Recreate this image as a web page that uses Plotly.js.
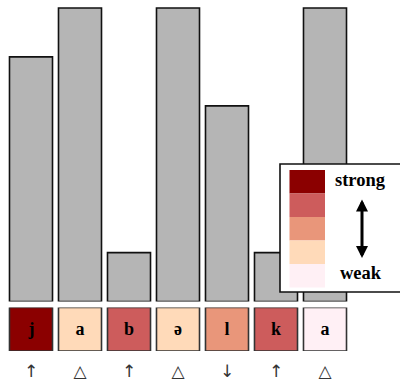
<!DOCTYPE html>
<html>
<head>
<meta charset="utf-8">
<script src="https://cdn.plot.ly/plotly-3.0.1.min.js"></script>
<style>html,body{margin:0;padding:0;background:#fff;}#chart{width:400px;height:383px;}</style>
</head>
<body>
<div id="chart"></div>
<script>
// ---- data ----
const phonemes = ['j', 'a', 'b', 'ə', 'l', 'k', 'a'];
const barValues = [5, 6, 1, 6, 4, 1, 6];
const strengthLevel = [5, 2, 4, 2, 3, 4, 1];   // 1 = weak ... 5 = strong
const boxHeights = [1, 1, 1, 1, 1, 1, 1];
const arrowLabels = ['↑', '△', '↑', '△', '↓', '↑', '△'];
const palette = ['#FFF0F5', '#FFDAB9', '#E9967A', '#CD5C5C', '#8B0000']; // weak -> strong
const legendWords = ['strong', 'weak'];

// ---- layout helpers ----
const W = 400, H = 383, MB = 32, PH = H - MB;
const px = x => x / W;
const py = y => (PH - y) / PH;
const positions = phonemes.map((_, i) => i);
const serif = '"Liberation Serif", "DejaVu Serif", serif';
const letterFont = {family: serif, size: 18, color: '#000', weight: 'bold'};

const traces = [
  {
    type: 'bar', x: positions, y: barValues, yaxis: 'y', xaxis: 'x',
    width: 0.878,
    marker: {color: '#b5b5b5', line: {color: '#111', width: 1.6}},
    hoverinfo: 'none', showlegend: false
  },
  {
    type: 'bar', x: positions, y: boxHeights, yaxis: 'y2', xaxis: 'x',
    width: 0.878,
    marker: {color: strengthLevel.map(s => palette[s - 1]), line: {color: '#333', width: 1.6}},
    text: phonemes.map(p => '<b>' + p + '</b>'), textposition: 'inside', insidetextanchor: 'middle',
    textangle: 0,
    textfont: letterFont, insidetextfont: letterFont,
    hoverinfo: 'none', showlegend: false
  }
];

const shapes = [];
// legend frame
shapes.push({type: 'rect', xref: 'paper', yref: 'paper',
  x0: px(280), x1: px(403), y0: py(292), y1: py(164),
  fillcolor: '#fff', line: {color: '#111', width: 1.6}, layer: 'above'});
// legend swatches (strong at top)
const swTop = 170, swH = 23.5;
for (let k = 0; k < palette.length; k++) {
  const c = palette[palette.length - 1 - k];
  shapes.push({type: 'rect', xref: 'paper', yref: 'paper',
    x0: px(289.5), x1: px(325), y0: py(swTop + (k + 1) * swH), y1: py(swTop + k * swH),
    fillcolor: c, line: {width: 0}, layer: 'above'});
}

const annotations = [
  {xref: 'paper', yref: 'paper', x: px(360), y: py(180), text: '<b>' + legendWords[0] + '</b>',
   showarrow: false, xanchor: 'center', yanchor: 'middle',
   font: {family: serif, size: 18.5, color: '#000'}},
  {xref: 'paper', yref: 'paper', x: px(360.5), y: py(273), text: '<b>' + legendWords[1] + '</b>',
   showarrow: false, xanchor: 'center', yanchor: 'middle',
   font: {family: serif, size: 18.5, color: '#000'}},
  {xref: 'paper', yref: 'paper', x: px(362), y: py(258), text: '',
   showarrow: true, arrowside: 'end+start', arrowhead: 2, arrowsize: 0.8, arrowwidth: 3,
   arrowcolor: '#000', ax: 0, ay: -60, standoff: 0, startstandoff: 0}
];

const layout = {
  width: W, height: H,
  margin: {l: 0, r: 0, t: 0, b: MB, pad: 0},
  paper_bgcolor: '#fff', plot_bgcolor: '#fff',
  bargap: 0.12,
  xaxis: {
    anchor: 'y2', range: [-31 / 49, (400 - 31) / 49],
    tickvals: positions, ticktext: arrowLabels,
    ticks: '', showline: false, showgrid: false, zeroline: false,
    ticklabelstandoff: 8,
    tickfont: {family: '"DejaVu Sans", sans-serif', size: 17, color: '#333'},
    fixedrange: true
  },
  yaxis: {
    domain: [py(301.5), 1], range: [0, 301.5 / (293.5 / 6)],
    visible: false, fixedrange: true
  },
  yaxis2: {
    domain: [0, py(307.5)], range: [0, 1],
    visible: false, fixedrange: true
  },
  shapes: shapes,
  annotations: annotations
};

Plotly.newPlot('chart', traces, layout, {displayModeBar: false, staticPlot: true});
</script>
</body>
</html>
